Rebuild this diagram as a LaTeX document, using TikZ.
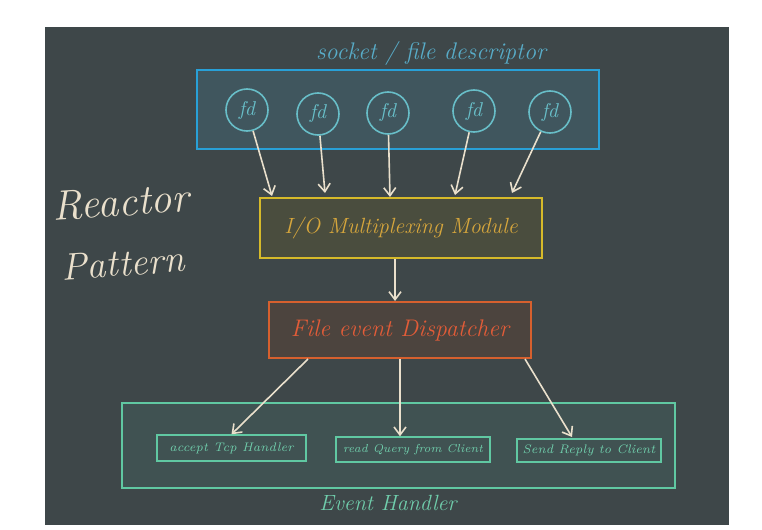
\documentclass[tikz,border=0pt]{standalone}
\usepackage{tikz}
\usetikzlibrary{arrows.meta}

\definecolor{board}{RGB}{62,71,73}
\definecolor{chalk}{RGB}{234,224,204}
\definecolor{blueline}{RGB}{40,160,215}
\definecolor{bluefill}{RGB}{64,86,94}
\definecolor{fdline}{RGB}{104,190,200}
\definecolor{headtext}{RGB}{88,172,200}
\definecolor{ioline}{RGB}{214,186,42}
\definecolor{iofill}{RGB}{74,77,62}
\definecolor{iotext}{RGB}{214,166,60}
\definecolor{displine}{RGB}{214,96,46}
\definecolor{dispfill}{RGB}{76,68,62}
\definecolor{disptext}{RGB}{226,92,56}
\definecolor{evline}{RGB}{96,200,162}
\definecolor{evfill}{RGB}{64,82,82}
\definecolor{evtext}{RGB}{112,206,172}

\begin{document}
\begin{tikzpicture}[x=0.5pt,y=-0.5pt,>={Straight Barb[length=4pt,width=6pt]},
    box/.style={draw, line width=1pt, inner sep=0pt},
    fdnode/.style={draw=fdline, fill=bluefill, line width=0.8pt, circle, minimum size=21pt, inner sep=0pt,
        text=fdline, font=\itshape\fontsize{10}{10}\selectfont},
    hbox/.style={draw=evline, line width=0.7pt, inner sep=0pt, text=evtext, font=\itshape\fontsize{6.2}{6.2}\selectfont},
    arr/.style={->, draw=chalk, line width=0.8pt}]
    \fill[white] (0,0) rectangle (762,530);
    \fill[board] (45,27) rectangle (729,525);

    \node[box, draw=blueline, fill=bluefill, minimum width=201pt, minimum height=39.5pt] (fdbox) at (398,109.5) {};
    \node[text=headtext, font=\itshape\fontsize{12}{12}\selectfont] (fdlabel) at (431,54) {socket / file descriptor};
    \node[fdnode] (fd1) at (247,110) {fd};
    \node[fdnode] (fd2) at (318,114) {fd};
    \node[fdnode] (fd3) at (388,113) {fd};
    \node[fdnode] (fd4) at (474,111) {fd};
    \node[fdnode] (fd5) at (550,112) {fd};

    \node[box, draw=ioline, fill=iofill, text=iotext, minimum width=141pt, minimum height=30pt,
        font=\itshape\fontsize{11}{11}\selectfont] (io) at (401,228) {I/O Multiplexing Module};
    \node[box, draw=displine, fill=dispfill, text=disptext, minimum width=131pt, minimum height=28pt,
        font=\itshape\fontsize{12}{12}\selectfont] (disp) at (400,330) {File event Dispatcher};

    \node[box, draw=evline, fill=evfill, minimum width=276.5pt, minimum height=42.5pt] (events) at (398.5,445.5) {};
    \node[hbox, minimum width=74.5pt, minimum height=13pt] (h1) at (231.5,448) {accept Tcp Handler};
    \node[hbox, minimum width=77pt, minimum height=12.5pt, font=\itshape\fontsize{5.8}{5.8}\selectfont] (h2) at (413,449.5) {read Query from Client};
    \node[hbox, minimum width=72pt, minimum height=11.5pt] (h3) at (589,450.5) {Send Reply to Client};
    \node[text=evtext, font=\itshape\fontsize{11}{11}\selectfont] (evlabel) at (388,503) {Event Handler};

    \node[text=chalk, font=\itshape\fontsize{21}{21}\selectfont, rotate=4] (reactor) at (121,202) {Reactor};
    \node[text=chalk, font=\itshape\fontsize{19}{19}\selectfont, rotate=4] (pattern) at (123,263) {Pattern};

    \coordinate (in1) at (272,196);
    \coordinate (in2) at (325,193);
    \coordinate (in3) at (390,197);
    \coordinate (in4) at (455,195);
    \coordinate (in5) at (512,193);
    \draw[arr] (fd1) -- (in1);
    \draw[arr] (fd2) -- (in2);
    \draw[arr] (fd3) -- (in3);
    \draw[arr] (fd4) -- (in4);
    \draw[arr] (fd5) -- (in5);
    \draw[arr] ([xshift=-3pt]io.south) -- ([xshift=-2.5pt]disp.north);

    \coordinate (out1) at (308,359);
    \coordinate (out3) at (525,359);
    \coordinate (to3) at (572,437);
    \draw[arr] (out1) -- (h1.north);
    \draw[arr] (disp.south) -- (disp.south |- h2.north);
    \draw[arr] (out3) -- (to3);
\end{tikzpicture}
\end{document}
